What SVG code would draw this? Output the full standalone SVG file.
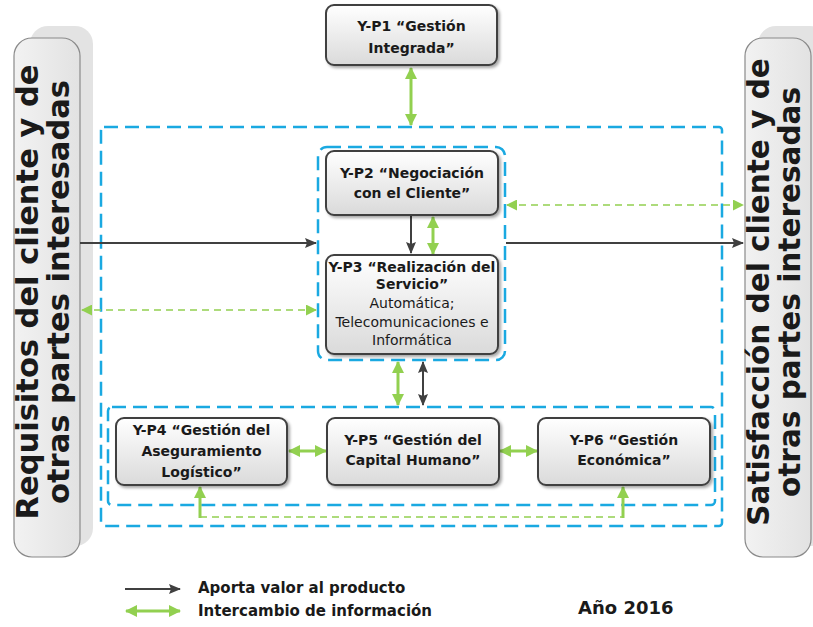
<svg xmlns="http://www.w3.org/2000/svg" width="813" height="627" viewBox="0 0 813 627">
<defs>
<linearGradient id="boxg" x1="0" y1="0" x2="0" y2="1">
<stop offset="0" stop-color="#ffffff"/>
<stop offset="1" stop-color="#dadada"/>
</linearGradient>
<linearGradient id="sideg" x1="0" y1="0" x2="1" y2="0">
<stop offset="0" stop-color="#f2f2f2"/>
<stop offset="1" stop-color="#e2e2e2"/>
</linearGradient>
<filter id="sh" x="-10%" y="-10%" width="130%" height="140%">
<feDropShadow dx="2" dy="2" stdDeviation="1.5" flood-color="#000" flood-opacity="0.35"/>
</filter>
<marker id="gh" viewBox="0 0 12 12" refX="11" refY="6" markerWidth="12" markerHeight="12" markerUnits="userSpaceOnUse" orient="auto-start-reverse">
<path d="M0,0 L12,6 L0,12 z" fill="#92d050"/>
</marker>
<marker id="ghs" viewBox="0 0 12 12" refX="11" refY="6" markerWidth="11" markerHeight="11" markerUnits="userSpaceOnUse" orient="auto-start-reverse">
<path d="M0,0 L12,6 L0,12 z" fill="#92d050"/>
</marker>
<marker id="dh" viewBox="0 0 12 12" refX="11" refY="6" markerWidth="12" markerHeight="12" markerUnits="userSpaceOnUse" orient="auto-start-reverse">
<path d="M0,1 L12,6 L0,11 L2,6 z" fill="#404040"/>
</marker>
</defs>
<style>
.box{fill:url(#boxg);stroke:#404040;stroke-width:2;filter:url(#sh)}
.bt{font-family:"DejaVu Sans",Verdana,sans-serif;font-weight:bold;font-size:14px;fill:#1a1a1a;text-anchor:middle}
.rt{font-family:"DejaVu Sans",Verdana,sans-serif;font-size:14px;fill:#1a1a1a;text-anchor:middle}
.side{font-family:"DejaVu Sans",Verdana,sans-serif;font-weight:bold;font-size:30.5px;fill:#1a1a1a;text-anchor:middle}
.sider{font-size:29.5px}
.blue{fill:none;stroke:#1aa9e1;stroke-width:2.5;stroke-dasharray:14 7}
.g{stroke:#92d050;stroke-width:3;fill:none}
.gd{stroke:#92d050;stroke-width:1.6;fill:none;stroke-dasharray:7 5}
.d{stroke:#404040;stroke-width:2;fill:none}
.leg{font-family:"DejaVu Sans",Verdana,sans-serif;font-weight:bold;font-size:15px;fill:#1a1a1a}
.year{font-size:18px}
</style>
<rect width="813" height="627" fill="#ffffff"/>

<g id="left-panel">
<rect x="30" y="26" width="63" height="520" rx="18" fill="#e3e3e3"/>
<rect x="14" y="38" width="66" height="519" rx="18" fill="url(#sideg)" stroke="#8a8a8a" stroke-width="1.2"/>
<text class="side" transform="translate(38,292) rotate(-90)">Requisitos del cliente y de</text>
<text class="side" transform="translate(69,292) rotate(-90)">otras partes interesadas</text>
</g>

<g id="right-panel">
<rect x="758" y="26" width="70" height="520" rx="18" fill="#e3e3e3"/>
<rect x="745" y="38" width="66" height="519" rx="18" fill="url(#sideg)" stroke="#8a8a8a" stroke-width="1.2"/>
<text class="side sider" transform="translate(769,292) rotate(-90)">Satisfacción del cliente y de</text>
<text class="side sider" transform="translate(800,292) rotate(-90)">otras partes interesadas</text>
</g>

<g id="groups">
<rect class="blue" x="101" y="127" width="621" height="399" rx="3"/>
<rect class="blue" x="318" y="147" width="187" height="213" rx="9"/>
<rect class="blue" x="108" y="407" width="607" height="98" rx="4"/>
</g>

<g id="connectors">
<line class="g" x1="411" y1="68" x2="411" y2="125" marker-start="url(#gh)" marker-end="url(#gh)"/>
<line class="d" x1="80" y1="243" x2="316" y2="243" marker-end="url(#dh)"/>
<line class="gd" x1="82" y1="310" x2="316" y2="310" marker-start="url(#ghs)" marker-end="url(#ghs)"/>
<line class="d" x1="411" y1="216" x2="411" y2="253" marker-end="url(#dh)"/>
<line class="g" x1="433" y1="217" x2="433" y2="254" marker-start="url(#gh)" marker-end="url(#gh)"/>
<line class="gd" x1="507" y1="205" x2="743" y2="205" marker-start="url(#ghs)" marker-end="url(#ghs)"/>
<line class="d" x1="506" y1="243" x2="743" y2="243" marker-end="url(#dh)"/>
<line class="g" x1="398" y1="362" x2="398" y2="405" marker-start="url(#gh)" marker-end="url(#gh)"/>
<line class="d" x1="423" y1="362" x2="423" y2="405" stroke-width="3" marker-start="url(#dh)" marker-end="url(#dh)"/>
<line class="g" x1="289" y1="451" x2="326" y2="451" marker-start="url(#gh)" marker-end="url(#gh)"/>
<line class="g" x1="500" y1="451" x2="537" y2="451" marker-start="url(#gh)" marker-end="url(#gh)"/>
<line class="gd" x1="200" y1="517" x2="623" y2="517" stroke-width="2"/>
<line class="g" x1="200" y1="518" x2="200" y2="487" stroke-width="2" marker-end="url(#gh)"/>
<line class="g" x1="623" y1="518" x2="623" y2="487" stroke-width="2" marker-end="url(#gh)"/>
</g>

<g id="p1">
<rect class="box" x="326" y="5" width="171" height="60" rx="8"/>
<text class="bt" x="411.5" y="31">Y-P1 “Gestión</text>
<text class="bt" x="411.5" y="53">Integrada”</text>
</g>
<g id="p2">
<rect class="box" x="326" y="151" width="172" height="64" rx="8"/>
<text class="bt" x="412" y="178">Y-P2 “Negociación</text>
<text class="bt" x="412" y="198">con el Cliente”</text>
</g>
<g id="p3">
<rect class="box" x="326" y="255" width="172" height="99" rx="8"/>
<text class="bt" x="412" y="272">Y-P3 “Realización del</text>
<text class="bt" x="412" y="289">Servicio”</text>
<text class="rt" x="412" y="308">Automática;</text>
<text class="rt" x="412" y="327">Telecomunicaciones e</text>
<text class="rt" x="412" y="345">Informática</text>
</g>
<g id="p4">
<rect class="box" x="116" y="418" width="171" height="67" rx="8"/>
<text class="bt" x="201.5" y="435">Y-P4 “Gestión del</text>
<text class="bt" x="201.5" y="456">Aseguramiento</text>
<text class="bt" x="201.5" y="477">Logístico”</text>
</g>
<g id="p5">
<rect class="box" x="327" y="418" width="172" height="67" rx="8"/>
<text class="bt" x="413" y="445">Y-P5 “Gestión del</text>
<text class="bt" x="413" y="465">Capital Humano”</text>
</g>
<g id="p6">
<rect class="box" x="538" y="418" width="172" height="67" rx="8"/>
<text class="bt" x="624" y="445">Y-P6 “Gestión</text>
<text class="bt" x="624" y="465">Económica”</text>
</g>

<g id="legend">
<line class="d" x1="125" y1="589" x2="180" y2="589" stroke-width="2.5" marker-end="url(#dh)"/>
<line class="g" x1="126" y1="611" x2="180" y2="611" marker-start="url(#gh)" marker-end="url(#gh)"/>
<text class="leg" x="198" y="593">Aporta valor al producto</text>
<text class="leg" x="198" y="616">Intercambio de información</text>
<text class="leg year" x="578" y="614">Año 2016</text>
</g>
</svg>
